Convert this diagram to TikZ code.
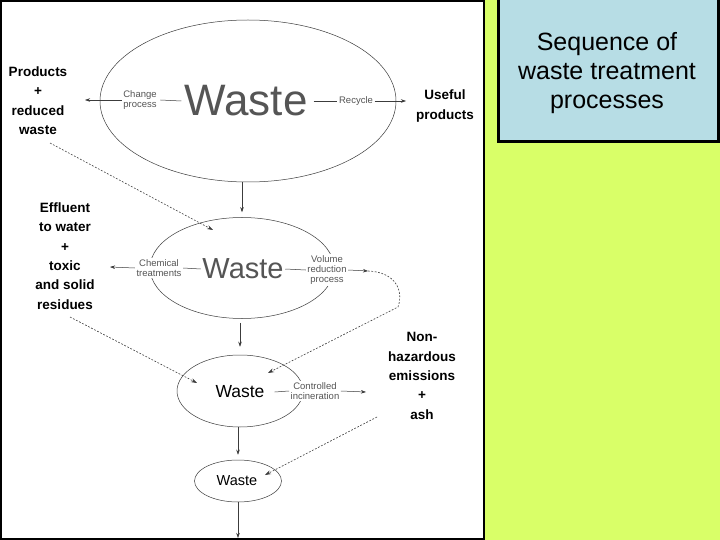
\documentclass[tikz,border=0pt]{standalone}
\usepackage{fontspec}
\setmainfont{Liberation Sans}
\usetikzlibrary{shapes.geometric,arrows.meta,calc}
\definecolor{limebg}{RGB}{217,255,104}
\definecolor{titleblue}{RGB}{183,221,229}
\definecolor{inkgray}{RGB}{60,60,60}
\definecolor{smallgray}{RGB}{85,85,85}
\begin{document}
\begin{tikzpicture}[x=1pt,y=-1pt,
  oval/.style={ellipse,draw=inkgray,line width=0.5pt,inner sep=0pt},
  smalltxt/.style={font=\fontsize{9.5}{10}\selectfont,text=smallgray,align=center,inner sep=1.5pt,fill=white},
  boldlbl/.style={font=\fontsize{13.5}{19.4}\selectfont\bfseries,align=center,inner sep=0pt},
  arr/.style={draw=inkgray,line width=0.5pt,-{Stealth[length=5pt,width=3.5pt]}},
  plain/.style={draw=inkgray,line width=0.5pt},
  dotline/.style={draw=inkgray,line width=0.6pt,dash pattern=on 1.8pt off 1.6pt,-{Stealth[length=6pt,width=4pt]}}
]
\useasboundingbox (0,0) rectangle (720,540);
\fill[limebg] (0,0) rectangle (720,540);
\fill[white] (0,0) rectangle (485,540);
\draw[black,line width=2.5pt] (1.2,1) rectangle (484,539);
\node[draw=black,line width=3pt,fill=titleblue,minimum width=220pt,minimum height=144pt,anchor=north west,inner sep=0pt] (tbox) at (497,-4) {};
\node[font=\fontsize{25}{29}\selectfont,align=center] (title) at (607,73) {Sequence of\\waste treatment\\processes};

% ellipses
\node[oval,minimum width=296pt,minimum height=162pt] (e1) at (248,101) {};
\node[oval,minimum width=184pt,minimum height=101pt] (e2) at (242,268) {};
\node[oval,minimum width=126pt,minimum height=72pt] (e3) at (240,391) {};
\node[oval,minimum width=87pt,minimum height=42pt] (e4) at (238,481) {};

% top ellipse content
\node[font=\fontsize{44}{44}\selectfont,text=smallgray,inner sep=2pt,fill=white] (w1) at (246,101) {Waste};
\node[smalltxt] (cp) at (140,100) {Change\\process};
\node[smalltxt] (rc) at (356,101) {Recycle};
\node[boldlbl] (up) at (445,106) {Useful\\products};
\node[boldlbl] (prw) at (38,100.5) {Products\\+\\reduced\\waste};
\coordinate (a1) at (85,100);
\coordinate (a2) at (406,101);
\draw[arr] (cp.west) -- (a1);
\draw[plain] ([xshift=2pt]cp.east) -- ([xshift=-1pt]w1.west);
\draw[plain] ([xshift=4pt]w1.east) -- (rc.west);
\draw[arr] (rc.east) -- (a2);

% middle ellipse content
\node[font=\fontsize{29}{29}\selectfont,text=smallgray,inner sep=1.5pt,fill=white] (w2) at (243,269) {Waste};
\node[smalltxt] (ct) at (159,268) {Chemical\\treatments};
\node[smalltxt] (vr) at (327,270) {Volume\\reduction\\process};
\node[boldlbl] (eff) at (65,256) {Effluent\\to water\\+\\toxic\\and solid\\residues};
\coordinate (b1) at (110,267);
\coordinate (b2) at (368,271);
\draw[arr] (ct.west) -- (b1);
\draw[plain] (ct.east) -- (w2.west);
\draw[plain] (w2.east) -- (vr.west);
\draw[arr] (vr.east) -- (b2);

% third ellipse content
\node[font=\fontsize{17.5}{17.5}\selectfont,inner sep=1pt] (w3) at (240,392) {Waste};
\node[smalltxt] (ci) at (315,391) {Controlled\\incineration};
\node[boldlbl] (nh) at (422,376) {Non-\\hazardous\\emissions\\+\\ash};
\coordinate (c1) at (366,392);
\draw[plain] ([xshift=9pt]w3.east) -- (ci.west);
\draw[arr] (ci.east) -- (c1);

% fourth ellipse
\node[font=\fontsize{14.5}{14.5}\selectfont,inner sep=1pt] (w4) at (237,481) {Waste};
\coordinate (d1) at (238,538);

% vertical flow
\draw[arr,shorten >=5pt] (e1.south -| e2.north) -- (e2.north);
\draw[arr,shorten <=4pt,shorten >=8pt] (e2.south -| e3.north) -- (e3.north);
\draw[arr,shorten >=5pt] (e3.south -| e4.north) -- (e4.north);
\draw[arr] (e4.south) -- (d1);

% dashed connectors
\coordinate (p1) at (50,143);
\coordinate (p2) at (213,230);
\coordinate (q1) at (70,317);
\coordinate (q2) at (197,383);
\coordinate (r1) at (377,417);
\coordinate (r2) at (265,475);
\coordinate (s2) at (268,373);
\draw[dotline] (p1) -- (p2);
\draw[dotline] (q1) -- (q2);
\draw[dotline] (r1) -- (r2);
\draw[dotline] (b2) .. controls (395,272) and (404,290) .. (398,307) -- (s2);
\end{tikzpicture}
\end{document}
